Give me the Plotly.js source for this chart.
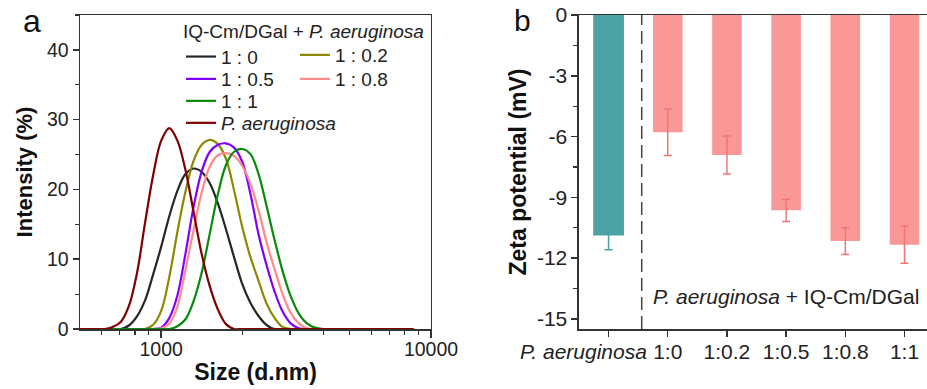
<!DOCTYPE html>
<html>
<head>
<meta charset="utf-8">
<script src="https://cdn.plot.ly/plotly-3.0.1.min.js"></script>
<style>html,body{margin:0;padding:0;background:#fff}</style>
</head>
<body>
<div id="chart" style="width:927px;height:389px"></div>
<script>
// ---- Panel a: DLS size distributions ----
const sizes = [501, 537, 575, 617, 661, 708, 759, 813, 871, 933, 1000, 1072, 1148, 1230, 1318, 1413, 1514, 1622, 1738, 1862,
               1995, 2138, 2291, 2455, 2630, 2818, 3020, 3236, 3467, 3715, 3981, 4266, 4571, 5500, 6500, 7500, 8635];
const int_1_0  = [0, 0, 0, 0, 0, 0, 0.5, 1.8, 4.1, 7.8, 11.8, 16.2, 19.8, 22.2, 23.0, 22.5, 20.9, 18.0, 14.3, 10.3,
                  6.5, 3.8, 1.9, 0.6, 0, 0, 0, 0, 0, 0, 0, 0, 0, 0, 0, 0, 0];
const int_1_02 = [0, 0, 0, 0, 0, 0, 0, 0, 0, 0.6, 2.6, 7.5, 13.9, 19.7, 24.1, 26.4, 27.1, 26.5, 24.4, 19.9,
                  14.7, 10.4, 7.0, 3.7, 1.6, 0.3, 0, 0, 0, 0, 0, 0, 0, 0, 0, 0, 0];
const int_1_05 = [0, 0, 0, 0, 0, 0, 0, 0, 0, 0, 0.2, 1.6, 4.8, 10.8, 17.5, 22.6, 25.4, 26.4, 26.6, 26.0,
                  24.0, 19.5, 13.7, 9.2, 5.4, 2.5, 0.8, 0.1, 0, 0, 0, 0, 0, 0, 0, 0, 0];
const int_1_08 = [0, 0, 0, 0, 0, 0, 0, 0, 0, 0, 0.1, 0.8, 3.2, 8.5, 14.2, 19.6, 23.3, 24.9, 25.2, 24.8,
                  23.4, 20.9, 17.1, 12.5, 8.6, 5.0, 2.3, 0.8, 0.1, 0, 0, 0, 0, 0, 0, 0, 0];
const int_1_1  = [0, 0, 0, 0, 0, 0, 0, 0, 0, 0, 0, 0, 0.4, 1.4, 4.0, 8.1, 13.7, 19.3, 23.5, 25.4,
                  25.8, 25.1, 22.3, 17.7, 12.8, 8.3, 4.7, 2.2, 0.8, 0.2, 0, 0, 0, 0, 0, 0, 0];
const int_pa   = [0, 0, 0, 0, 0.3, 1.0, 3.3, 8.0, 15.2, 22.0, 27.0, 28.8, 27.0, 22.8, 16.8, 10.7, 6.1, 2.8, 0.7, 0,
                  0, 0, 0, 0, 0, 0, 0, 0, 0, 0, 0, 0, 0, 0, 0, 0, 0];
const sizeTicks = [1000, 10000];
const sizeMinorTicks = [600, 700, 800, 900, 2000, 3000, 4000, 5000, 6000, 7000, 8000, 9000];
const intensityTicks = [0, 10, 20, 30, 40];

// ---- Panel b: zeta potential ----
const categories = ['P. aeruginosa', '1:0', '1:0.2', '1:0.5', '1:0.8', '1:1'];
const tickLabels = ['', '1:0', '1:0.2', '1:0.5', '1:0.8', '1:1'];
const firstLabel = '<i>P. aeruginosa</i>';
const zeta    = [-10.88, -5.79, -6.91, -9.64, -11.16, -11.34];
const zetaErr = [0.71, 1.15, 0.94, 0.55, 0.66, 0.92];
const zetaTicks = [0, -3, -6, -9, -12, -15];
const zetaTickText = ['0', '-3', '-6', '-9', '-12', '-15'];

const dividerPos = 0.56;

const lineW = 2.2;
function curve(y, name, color, legend) {
  return {x: sizes, y: y, name: name, type: 'scatter', mode: 'lines',
          line: {color: color, width: lineW, shape: 'spline', smoothing: 1},
          xaxis: 'x', yaxis: 'y', legend: legend};
}

const traces = [
  curve(int_1_0,  '1 : 0',   '#262626', 'legend'),
  curve(int_1_02, '1 : 0.2', '#8a8a00', 'legend2'),
  curve(int_1_05, '1 : 0.5', '#8000ff', 'legend3'),
  curve(int_1_08, '1 : 0.8', '#ff8a8a', 'legend4'),
  curve(int_1_1,  '1 : 1',   '#0a8a0a', 'legend5'),
  curve(int_pa,   '<i>P. aeruginosa</i>', '#7f0000', 'legend6'),
  {x: categories.slice(0, 1), y: zeta.slice(0, 1), type: 'bar', width: 0.52,
   marker: {color: '#4ba3a3'}, showlegend: false, xaxis: 'x2', yaxis: 'y2',
   error_y: {type: 'data', array: zetaErr.slice(0, 1), color: '#4ba3a3', thickness: 1.5, width: 4}},
  {x: categories.slice(1), y: zeta.slice(1), type: 'bar', width: 0.5,
   marker: {color: '#fa9898'}, showlegend: false, xaxis: 'x2', yaxis: 'y2',
   error_y: {type: 'data', array: zetaErr.slice(1), color: '#f07676', thickness: 1.5, width: 4}}
];

const axisCol = '#333';
const leftTickFont = {size: 19.5, color: '#222'};
const rightTickFont = {size: 21, color: '#222'};
const legFont = {size: 19, color: '#222'};
function leg(x, y, extra) {
  return Object.assign({x: x, y: y, xanchor: 'left', yanchor: 'top', orientation: 'v',
    bgcolor: 'rgba(0,0,0,0)', borderwidth: 0, font: legFont, tracegroupgap: 0}, extra || {});
}
const col1 = 0.1192, col2 = 0.2538;

const layout = {
  width: 927, height: 389,
  margin: {l: 80, r: 0, t: 15, b: 60},
  font: {family: 'Liberation Sans, Arial, sans-serif', color: '#222'},
  paper_bgcolor: '#fff', plot_bgcolor: '#fff',
  barmode: 'overlay',
  showlegend: true,
  xaxis: {domain: [0, 0.4144], type: 'log', range: [Math.log10(500), 4], anchor: 'y',
          tickvals: sizeTicks, ticktext: sizeTicks.map(String), ticks: 'outside', ticklen: 7, tickwidth: 1.5,
          ticklabelstandoff: -5,
          tickcolor: axisCol, showline: true, linecolor: axisCol, linewidth: 1.5, mirror: true,
          showgrid: false, zeroline: false, tickfont: leftTickFont,
          minor: {tickmode: 'array', tickvals: sizeMinorTicks,
                  ticks: 'outside', ticklen: 4, tickwidth: 1.2, tickcolor: axisCol, showgrid: false},
          title: {text: '<b>Size (d.nm)</b>', font: {size: 23, color: '#111'}, standoff: 5}},
  yaxis: {domain: [0, 1], range: [0, 45], anchor: 'x', tickvals: intensityTicks,
          ticks: 'outside', ticklen: 6, tickwidth: 1.5, tickcolor: axisCol,
          showline: true, linecolor: axisCol, linewidth: 1.5, mirror: true,
          showgrid: false, zeroline: false, tickfont: leftTickFont,
          minor: {dtick: 5, ticks: 'outside', ticklen: 4, tickwidth: 1.2, tickcolor: axisCol, showgrid: false},
          title: {text: '<b>Intensity (%)</b>', font: {size: 22, color: '#111'}, standoff: 8}},
  xaxis2: {domain: [0.5891, 1], type: 'category', range: [-0.5, 5.38], anchor: 'y2',
           tickvals: categories, ticktext: tickLabels, tickangle: 0, ticks: 'outside', ticklen: 6, tickwidth: 1.5,
           ticklabelstandoff: -3,
           tickcolor: axisCol, showline: true, linecolor: axisCol, linewidth: 1.5, mirror: true,
           showgrid: false, zeroline: false, tickfont: rightTickFont},
  yaxis2: {domain: [0, 1], range: [-15.5, 0], anchor: 'x2',
           tickvals: zetaTicks, ticktext: zetaTickText, ticks: 'outside', ticklen: 6, tickwidth: 1.5, tickcolor: axisCol,
           showline: true, linecolor: axisCol, linewidth: 1.5, mirror: true,
           showgrid: false, zeroline: false, tickfont: rightTickFont,
           minor: {dtick: 1.5, ticks: 'outside', ticklen: 4, tickwidth: 1.2, tickcolor: axisCol, showgrid: false},
           title: {text: '<b>Zeta potential (mV)</b>', font: {size: 23, color: '#111'}, standoff: 4}},
  legend:  leg(col1, 1.0064, {title: {text: 'IQ-Cm/DGal + <i>P. aeruginosa</i>', font: legFont, side: 'top'}}),
  legend2: leg(col2, 0.933),
  legend3: leg(col1, 0.8566),
  legend4: leg(col2, 0.8566),
  legend5: leg(col1, 0.7866),
  legend6: leg(col1, 0.7166),
  shapes: [
    {type: 'line', xref: 'x2', yref: 'y2 domain', x0: dividerPos, x1: dividerPos, y0: 0, y1: 1,
     line: {color: '#444', width: 1.5, dash: '13px,6px'}}
  ],
  annotations: [
    {text: 'a', xref: 'paper', yref: 'paper', x: -0.0567, y: 0.981, xanchor: 'center', yanchor: 'middle',
     showarrow: false, font: {size: 32, color: '#111'}},
    {text: 'b', xref: 'paper', yref: 'paper', x: 0.523, y: 0.981, xanchor: 'center', yanchor: 'middle',
     showarrow: false, font: {size: 30, color: '#111'}},
    {text: '<i>P. aeruginosa</i> + IQ-Cm/DGal', xref: 'x2', yref: 'y2', x: 0.71, y: -13.88,
     xanchor: 'left', yanchor: 'middle', showarrow: false, font: {size: 21, color: '#222'}},
    {text: firstLabel, xref: 'x2', yref: 'paper', x: 0.68, y: -0.0723,
     xanchor: 'right', yanchor: 'middle', showarrow: false, font: rightTickFont}
  ]
};

Plotly.newPlot('chart', traces, layout, {displayModeBar: false, staticPlot: true});
</script>
</body>
</html>
